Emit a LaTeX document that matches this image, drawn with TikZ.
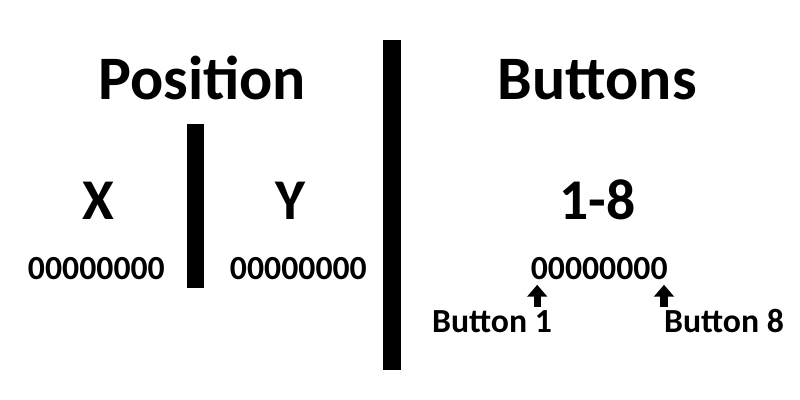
\documentclass[tikz,border=0pt]{standalone}
\usepackage{fontspec}
\setmainfont{Carlito}
\usetikzlibrary{arrows.meta}
\tikzset{
	title/.style={font=\fontsize{44}{48}\selectfont\bfseries, anchor=base, inner sep=0pt},
	axis/.style={font=\fontsize{41}{44}\selectfont\bfseries, anchor=base, inner sep=0pt},
	bits/.style={font=\fontsize{24}{26}\selectfont\bfseries, anchor=base, inner sep=0pt},
	pointer/.style={line width=5pt, -{Triangle[width=14pt, length=8.5pt]}}
}
\begin{document}
\begin{tikzpicture}
		\useasboundingbox (0,0) rectangle (20,10);
		% Position
		\node[title] (pos) at (5.05,7.5) {Position};
		\node[axis] (X) at (2.45,4.5) {X};
		\node[axis] (Y) at (7.25,4.5) {Y};
		\node[bits] (xbits) at (2.41,3.0) {00000000};
		\node[bits] (ybits) at (7.46,3.0) {00000000};
		\fill (4.675,2.8) rectangle (5.1,6.9);
		
		% Divider
		\fill (9.575,0.75) rectangle (10.025,9.0);
		
		% Buttons
		\node[title] (btn) at (14.93,7.5) {Buttons};
		\node[axis] (range) at (14.93,4.5) {1-8};
		\node[bits] (bbits) at (14.98,3.0) {00000000};
		\node[bits] (b1) at (12.3,1.675) {Button 1};
		\node[bits] (b8) at (18.1,1.675) {Button 8};
		\coordinate (b1s) at (13.43,2.33);
		\coordinate (b1e) at (13.43,2.88);
		\coordinate (b8s) at (16.6,2.33);
		\coordinate (b8e) at (16.6,2.88);
		\draw[pointer] (b1s) -- (b1e);
		\draw[pointer] (b8s) -- (b8e);
		
	\end{tikzpicture}
\end{document}
